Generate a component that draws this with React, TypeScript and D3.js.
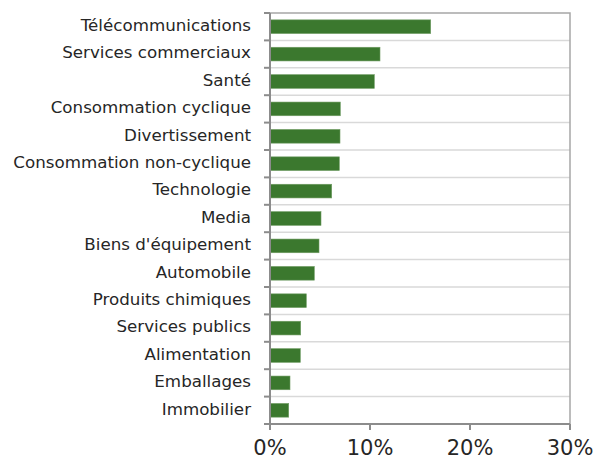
import React, { useRef, useEffect } from 'react';
import * as d3 from 'd3';

const categories = [
  'Télécommunications',
  'Services commerciaux',
  'Santé',
  'Consommation cyclique',
  'Divertissement',
  'Consommation non-cyclique',
  'Technologie',
  'Media',
  "Biens d'équipement",
  'Automobile',
  'Produits chimiques',
  'Services publics',
  'Alimentation',
  'Emballages',
  'Immobilier',
];

const values = [16.07, 11.0, 10.43, 7.03, 7.0, 6.93, 6.17, 5.1, 4.9, 4.43, 3.63, 3.07, 3.03, 2.0, 1.87];

const xTicks = [0, 10, 20, 30];

export default function App() {
  const svgRef = useRef<SVGSVGElement>(null);
  const width = 594;
  const height = 459;
  const margin = { top: 13, right: 24, bottom: 35, left: 270 };

  useEffect(() => {
    const svg = d3.select(svgRef.current);
    svg.selectAll('*').remove();

    const x = d3.scaleLinear().domain([0, 30]).range([margin.left, width - margin.right]);
    const y = d3
      .scaleBand<string>()
      .domain(categories)
      .range([margin.top, height - margin.bottom])
      .paddingInner(0.5)
      .paddingOuter(0.25);

    const step = y.step();
    const top = margin.top;
    const bottom = height - margin.bottom;

    // gridlines between categories
    const bounds = d3.range(1, categories.length).map(i => top + i * step);
    svg
      .append('g')
      .selectAll('line')
      .data(bounds)
      .enter()
      .append('line')
      .attr('x1', x(0))
      .attr('x2', x(30))
      .attr('y1', d => d)
      .attr('y2', d => d)
      .attr('stroke', '#d9d9d9')
      .attr('stroke-width', 1.5);

    // top + right border
    svg
      .append('path')
      .attr('d', `M${x(0)},${top}H${x(30)}V${bottom}`)
      .attr('fill', 'none')
      .attr('stroke', '#a6a6a6')
      .attr('stroke-width', 1.5);

    // bars
    svg
      .append('g')
      .selectAll('rect')
      .data(values)
      .enter()
      .append('rect')
      .attr('x', x(0))
      .attr('y', (_, i) => y(categories[i])!)
      .attr('width', d => x(d) - x(0))
      .attr('height', y.bandwidth())
      .attr('fill', '#3b782e')
      .attr('stroke', '#6f9c63')
      .attr('stroke-width', 0.6);

    // left axis
    const ax = svg.append('g').attr('stroke', '#8c8c8c').attr('stroke-width', 2);
    ax.append('line').attr('x1', x(0)).attr('x2', x(0)).attr('y1', top).attr('y2', bottom);
    ax.selectAll('line.t')
      .data(d3.range(0, categories.length + 1).map(i => top + i * step))
      .enter()
      .append('line')
      .attr('class', 't')
      .attr('x1', x(0) - 6)
      .attr('x2', x(0))
      .attr('y1', d => d)
      .attr('y2', d => d);

    // bottom axis
    ax.append('line').attr('x1', x(0)).attr('x2', x(30)).attr('y1', bottom).attr('y2', bottom);
    ax.selectAll('line.b')
      .data(xTicks)
      .enter()
      .append('line')
      .attr('class', 'b')
      .attr('x1', d => x(d))
      .attr('x2', d => x(d))
      .attr('y1', bottom)
      .attr('y2', bottom + 6);

    // category labels
    svg
      .append('g')
      .selectAll('text')
      .data(categories)
      .enter()
      .append('text')
      .attr('x', 251)
      .attr('y', d => y(d)! + y.bandwidth() / 2 - 1.5)
      .attr('dy', '0.35em')
      .attr('text-anchor', 'end')
      .attr('font-family', 'DejaVu Sans, sans-serif')
      .attr('font-size', 16.7)
      .attr('fill', '#262626')
      .text(d => d);

    // x tick labels
    svg
      .append('g')
      .selectAll('text')
      .data(xTicks)
      .enter()
      .append('text')
      .attr('x', d => x(d))
      .attr('y', 455)
      .attr('text-anchor', 'middle')
      .attr('font-family', 'DejaVu Sans, sans-serif')
      .attr('font-size', 21)
      .attr('fill', '#262626')
      .text(d => `${d}%`);
  }, []);

  return (
    <div style={{ position: 'fixed', left: 0, top: 0 }}>
      <svg ref={svgRef} width={width} height={height} style={{ display: 'block', background: '#fff' }} />
    </div>
  );
}
